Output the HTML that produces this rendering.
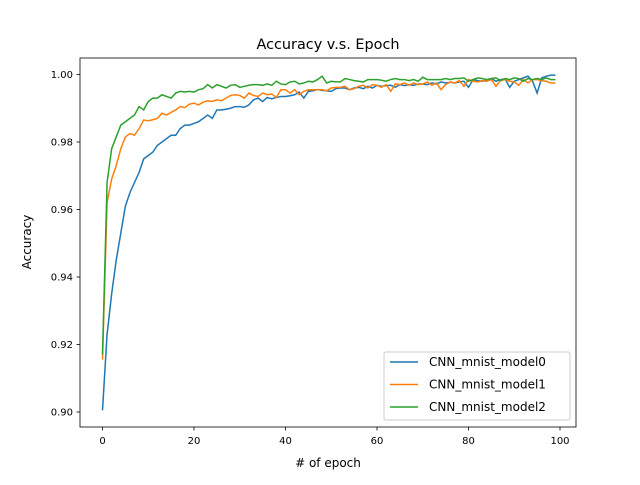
<!DOCTYPE html>
<html><head><meta charset="utf-8"><style>
body{margin:0;background:#fff}
svg text{font-family:"DejaVu Sans","Liberation Sans",sans-serif;}
</style></head><body>
<svg id="chart" width="640" height="480" xmlns="http://www.w3.org/2000/svg">
<rect width="640" height="480" fill="#fff"/>
<text x="328" y="49" font-size="14.4" text-anchor="middle">Accuracy v.s. Epoch</text>
<g id="plot"></g>
<text x="328" y="467" font-size="12" text-anchor="middle"># of epoch</text>
<text transform="translate(31,242) rotate(-90)" font-size="12" text-anchor="middle">Accuracy</text>
</svg>
<script>
const xTicks=[0,20,40,60,80,100];
const yTicks=[0.90,0.92,0.94,0.96,0.98,1.00];
const seriesNames=["CNN_mnist_model0","CNN_mnist_model1","CNN_mnist_model2"];
const model0=[0.9005,0.923,0.935,0.945,0.953,0.961,0.965,0.968,0.971,0.975,0.976,0.977,0.979,0.980,0.981,0.982,0.982,0.984,0.985,0.985,0.9855,0.986,0.987,0.988,0.987,0.9895,0.9895,0.9897,0.990,0.9905,0.9905,0.9903,0.991,0.9925,0.993,0.992,0.9932,0.9928,0.9932,0.9935,0.9935,0.9937,0.994,0.9948,0.993,0.995,0.9952,0.9955,0.9953,0.9952,0.995,0.9958,0.996,0.996,0.9955,0.996,0.9962,0.9958,0.9965,0.996,0.9968,0.9965,0.9967,0.9968,0.9962,0.997,0.9967,0.997,0.9968,0.9972,0.9972,0.997,0.9975,0.9972,0.9978,0.9975,0.9977,0.9975,0.9978,0.998,0.9962,0.9985,0.9982,0.998,0.9983,0.9988,0.998,0.9985,0.9987,0.9962,0.998,0.9985,0.999,0.9995,0.998,0.9945,0.999,0.9995,0.9998,0.9998];
const model1=[0.9155,0.962,0.969,0.973,0.978,0.9815,0.9825,0.982,0.984,0.9865,0.9863,0.9866,0.987,0.9885,0.988,0.9888,0.9895,0.9905,0.9902,0.9912,0.9915,0.991,0.9918,0.9922,0.992,0.9925,0.9922,0.993,0.9938,0.994,0.9938,0.993,0.9945,0.9938,0.9935,0.9945,0.994,0.9942,0.9932,0.9955,0.9955,0.9945,0.9955,0.994,0.995,0.9955,0.9955,0.9955,0.9955,0.9952,0.996,0.9962,0.9962,0.9965,0.9955,0.9958,0.9965,0.9968,0.996,0.997,0.9968,0.9962,0.997,0.995,0.9972,0.997,0.9975,0.9968,0.9975,0.997,0.9972,0.9978,0.9968,0.9975,0.9955,0.997,0.9978,0.9975,0.9982,0.9965,0.9985,0.998,0.9978,0.9982,0.998,0.9985,0.9965,0.9982,0.9985,0.998,0.9978,0.9968,0.9985,0.9975,0.9985,0.9985,0.9982,0.998,0.9975,0.9975];
const model2=[0.917,0.968,0.978,0.9815,0.985,0.986,0.987,0.988,0.9905,0.9895,0.992,0.993,0.993,0.994,0.9935,0.993,0.9945,0.995,0.9948,0.995,0.9948,0.9955,0.9958,0.997,0.996,0.997,0.9965,0.996,0.9968,0.997,0.9962,0.9965,0.9968,0.997,0.997,0.9968,0.9972,0.9968,0.998,0.9972,0.997,0.9978,0.998,0.9972,0.9975,0.998,0.9978,0.9985,0.9995,0.9975,0.998,0.9978,0.9978,0.9988,0.9985,0.9982,0.998,0.9978,0.9985,0.9985,0.9985,0.9983,0.998,0.9985,0.9988,0.9985,0.9985,0.9982,0.9985,0.998,0.9992,0.9985,0.9985,0.9985,0.9985,0.9988,0.9985,0.9988,0.9988,0.999,0.998,0.9985,0.999,0.9988,0.9985,0.9988,0.999,0.9982,0.9988,0.9985,0.999,0.9988,0.998,0.9988,0.9985,0.9988,0.9985,0.999,0.9985,0.9985];
const colors=["#1f77b4","#ff7f0e","#2ca02c"];
const L=80,R=576,T=58,B=427;
const xs=v=>102.5+v*(560-102.5)/100;
const ys=v=>412-(v-0.90)*(412-74.5)/0.10;
const NS="http://www.w3.org/2000/svg";
const g=document.getElementById('plot');
function mk(t,a){const e=document.createElementNS(NS,t);for(const k in a)e.setAttribute(k,a[k]);g.appendChild(e);return e;}
[model0,model1,model2].forEach((s,i)=>{
  const p=mk('polyline',{points:s.map((v,j)=>xs(j)+','+ys(v)).join(' '),fill:'none',stroke:colors[i],'stroke-width':1.5});
  
  
});
const frame=mk('rect',{x:L,y:T,width:R-L,height:B-T,fill:'none',stroke:'#000','stroke-width':0.8});


xTicks.forEach(v=>{
  mk('line',{x1:xs(v),x2:xs(v),y1:B,y2:B+3.5,stroke:'#000','stroke-width':0.8});
  const t=mk('text',{x:xs(v),y:B+17,'font-size':10,'text-anchor':'middle'});t.textContent=v;
  
  
});
yTicks.forEach(v=>{
  mk('line',{x1:L-3.5,x2:L,y1:ys(v),y2:ys(v),stroke:'#000','stroke-width':0.8});
  const t=mk('text',{x:L-7,y:ys(v)+3.5,'font-size':10,'text-anchor':'end'});t.textContent=v.toFixed(2);
  
  
});
const lg=mk('rect',{x:384,y:352,width:186,height:68,rx:2,fill:'#fff','fill-opacity':0.8,stroke:'#ccc'});


seriesNames.forEach((n,i)=>{
  const y=362+i*22.5;
  mk('line',{x1:390,x2:418,y1:y,y2:y,stroke:colors[i],'stroke-width':1.5});
  const t=mk('text',{x:429,y:y+4,'font-size':12});t.textContent=n;
  
  
});
</script>
</body></html>
